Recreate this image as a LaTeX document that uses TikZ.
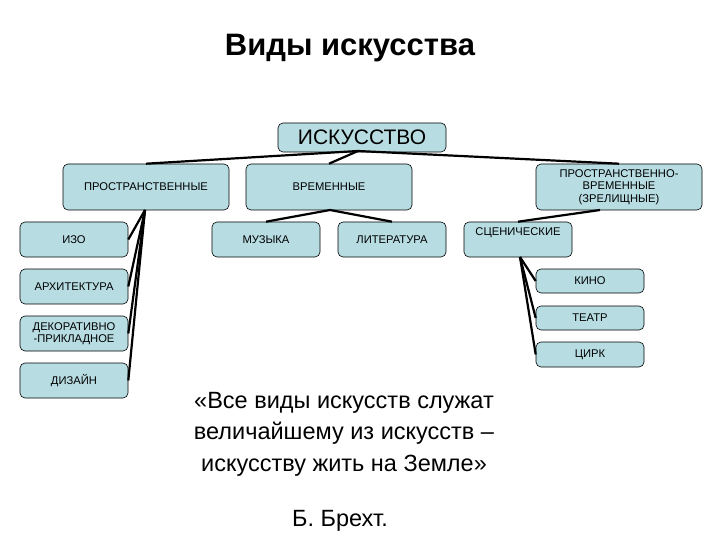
\documentclass[tikz,border=0pt]{standalone}
\usepackage{fontspec}
\setmainfont{Liberation Sans}
\begin{document}
\begin{tikzpicture}[x=1pt,y=-1pt,
  bx/.style={draw=black,fill={rgb,255:red,183;green,221;blue,227},rounded corners=5pt,line width=0.6pt,font=\fontsize{11.2}{12.5}\selectfont,align=center,inner sep=0pt},
  ln/.style={line width=2.2pt}]
\useasboundingbox (0,0) rectangle (720,540);
\node[font=\bfseries\fontsize{31}{34}\selectfont] (title) at (350,48) {Виды искусства};
\newcommand\bxx[6]{\node[bx,minimum width=#4-#2,minimum height=#5-#3] (#1) at ({(#2+#4)/2},{(#3+#5)/2}) {#6};}
\node[bx,minimum width=168,minimum height=29,font=\fontsize{21}{23}\selectfont] (isk) at (362,137.5) {ИСКУССТВО};
\bxx{pr}{63}{164}{229}{210}{ПРОСТРАНСТВЕННЫЕ}
\bxx{vr}{246}{164}{412}{210}{ВРЕМЕННЫЕ}
\bxx{pv}{536}{164}{702}{210}{ПРОСТРАНСТВЕННО-\\ВРЕМЕННЫЕ\\(ЗРЕЛИЩНЫЕ)}
\bxx{izo}{20}{222}{128}{257}{ИЗО}
\bxx{muz}{212}{222}{320}{257}{МУЗЫКА}
\bxx{lit}{338}{222}{446}{257}{ЛИТЕРАТУРА}
\node[bx,minimum width=108,minimum height=35,text depth=15pt] (sc) at (518,239.5) {СЦЕНИЧЕСКИЕ};
\bxx{arh}{20}{269}{128}{304}{АРХИТЕКТУРА}
\bxx{dek}{20}{316}{128}{351}{ДЕКОРАТИВНО\\-ПРИКЛАДНОЕ}
\bxx{diz}{20}{363}{128}{398}{ДИЗАЙН}
\bxx{kino}{536}{269}{644}{293}{КИНО}
\bxx{teatr}{536}{306}{644}{330}{ТЕАТР}
\bxx{cirk}{536}{342}{644}{367}{ЦИРК}
\coordinate (iskb) at (358,151);
\coordinate (prb) at (145,210);
\coordinate (vrb) at (330,210);
\coordinate (pvb) at (600,210);
\coordinate (scb) at (520,257);
\draw[ln] (iskb) -- (pr.north);
\draw[ln] (iskb) -- (vr.north);
\draw[ln] (iskb) -- (pv.north);
\draw[ln] (prb) -- (izo.east);
\draw[ln] (prb) -- (arh.east);
\draw[ln] (prb) -- (dek.east);
\draw[ln] (prb) -- (diz.east);
\draw[ln] (vrb) -- (muz.north);
\draw[ln] (vrb) -- (lit.north);
\draw[ln] (pvb) -- (sc.north);
\draw[ln] (scb) -- (kino.west);
\draw[ln] (scb) -- (teatr.west);
\draw[ln] (scb) -- (cirk.west);
\node[font=\fontsize{23.5}{31.5}\selectfont,align=center] (quote) at (344,434) {«Все виды искусств служат\\величайшему из искусств –\\искусству жить на Земле»};
\node[font=\fontsize{23.5}{26}\selectfont] (author) at (340,521) {Б. Брехт.};
\end{tikzpicture}
\end{document}
